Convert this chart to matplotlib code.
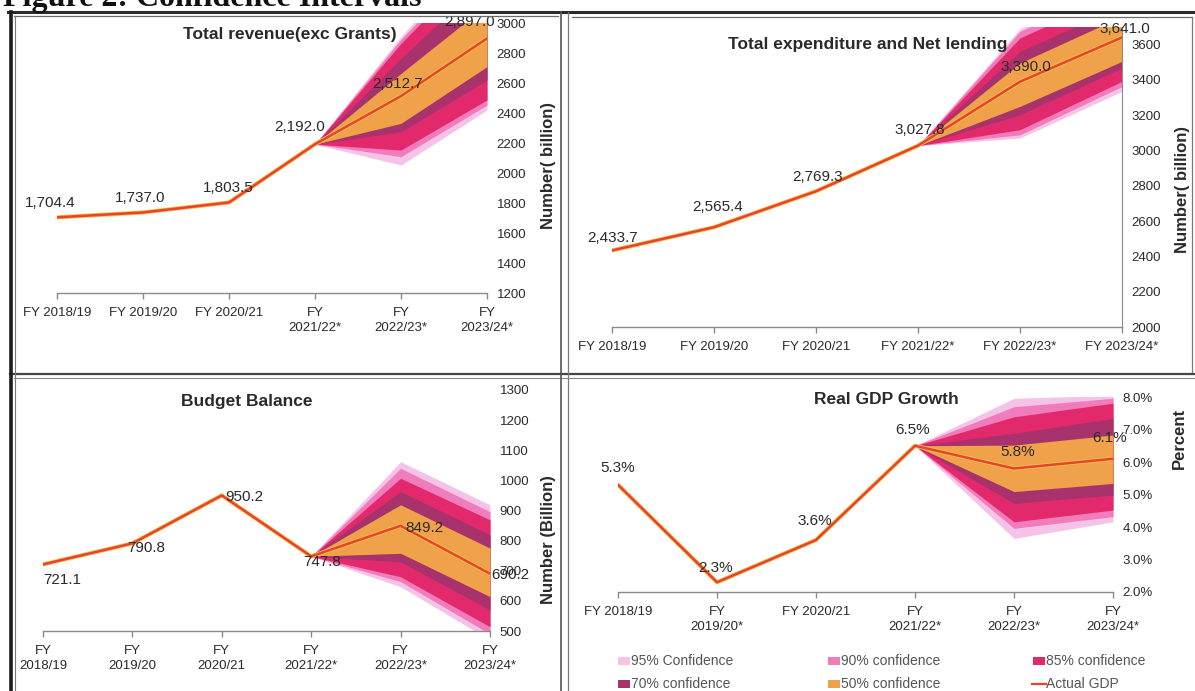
import matplotlib
matplotlib.use("Agg")
import matplotlib.pyplot as plt
from matplotlib.patches import Rectangle
from matplotlib.lines import Line2D

plt.rcParams['font.family'] = ['Liberation Sans', 'DejaVu Sans']

W, H = 1195, 691
DPI = 100

# ---------------- data ----------------
levels = ["95% Confidence", "90% confidence", "85% confidence", "70% confidence", "50% confidence"]
band_colors = ["#f6c3e8", "#f07cbc", "#e2296b", "#a8326b", "#f0a24a"]
fan_x = [3, 4, 5]

rev_ticks = ["FY 2018/19", "FY 2019/20", "FY 2020/21", "FY\n2021/22*", "FY\n2022/23*", "FY\n2023/24*"]
rev_values = [1704.4, 1737.0, 1803.5, 2192.0, 2512.7, 2897.0]
rev_labels = ["1,704.4", "1,737.0", "1,803.5", "2,192.0", "2,512.7", "2,897.0"]
rev_lower = [[2192.0, 2053, 2420], [2192.0, 2109, 2453], [2192.0, 2153, 2487],
             [2192.0, 2275, 2620], [2192.0, 2331, 2709]]
rev_upper = [[2192.0, 2909, 3550], [2192.0, 2891, 3500], [2192.0, 2864, 3450],
             [2192.0, 2764, 3300], [2192.0, 2664, 3120]]

exp_ticks = ["FY 2018/19", "FY 2019/20", "FY 2020/21", "FY 2021/22*", "FY 2022/23*", "FY 2023/24*"]
exp_values = [2433.7, 2565.4, 2769.3, 3027.8, 3390.0, 3641.0]
exp_labels = ["2,433.7", "2,565.4", "2,769.3", "3,027.8", "3,390.0", "3,641.0"]
exp_lower = [[3027.8, 3071, 3335], [3027.8, 3089, 3363], [3027.8, 3118, 3392],
             [3027.8, 3203, 3468], [3027.8, 3250, 3505]]
exp_upper = [[3027.8, 3690, 3990], [3027.8, 3675, 3950], [3027.8, 3638, 3900],
             [3027.8, 3562, 3820], [3027.8, 3496, 3760]]

bal_ticks = ["FY\n2018/19", "FY\n2019/20", "FY\n2020/21", "FY\n2021/22*", "FY\n2022/23*", "FY\n2023/24*"]
bal_values = [721.1, 790.8, 950.2, 747.8, 849.2, 690.2]
bal_labels = ["721.1", "790.8", "950.2", "747.8", "849.2", "690.2"]
bal_lower = [[747.8, 647, 470], [747.8, 664, 490], [747.8, 680, 514],
             [747.8, 730, 570], [747.8, 758, 614]]
bal_upper = [[747.8, 1062, 919], [747.8, 1040, 896], [747.8, 1007, 869],
             [747.8, 963, 819], [747.8, 919, 775]]

gdp_ticks = ["FY 2018/19", "FY\n2019/20*", "FY 2020/21", "FY\n2021/22*", "FY\n2022/23*", "FY\n2023/24*"]
gdp_values = [5.3, 2.3, 3.6, 6.5, 5.8, 6.1]
gdp_labels = ["5.3%", "2.3%", "3.6%", "6.5%", "5.8%", "6.1%"]
gdp_lower = [[6.5, 3.65, 4.16], [6.5, 3.96, 4.32], [6.5, 4.16, 4.52],
             [6.5, 4.73, 4.98], [6.5, 5.09, 5.34]]
gdp_upper = [[6.5, 7.96, 8.05], [6.5, 7.70, 7.96], [6.5, 7.39, 7.81],
             [6.5, 6.88, 7.34], [6.5, 6.52, 6.83]]

# ---------------- figure ----------------
fig = plt.figure(figsize=(W / DPI, H / DPI), dpi=DPI)
fig.patch.set_facecolor("white")

LINE_RED = "#e8432e"
TXT = "#2a2a2a"


def px_axes(l, t, w, h):
    return fig.add_axes([l / W, 1 - (t + h) / H, w / W, h / H])


def pt(px):
    return px * 72.0 / DPI


def draw_panel(ax, title, ticks, values, labels, lower, upper, ylim, yticks, ytickfmt,
               ylabel, offsets, title_xy, ylabel_xy, right_spine=False):
    x = list(range(len(values)))
    for lo, hi, c in zip(lower, upper, band_colors):
        ax.fill_between(fan_x, lo, hi, color=c, linewidth=0, zorder=2)
    ax.plot(x, values, color="#f3c24a", lw=3.0, zorder=3, solid_capstyle="round")
    ax.plot(x, values, color=LINE_RED, lw=1.8, zorder=4)
    ax.set_xlim(0, len(values) - 1)
    ax.set_ylim(*ylim)
    ax.set_xticks(x)
    ax.set_xticklabels(ticks, fontsize=9.5, color=TXT, linespacing=1.3)
    ax.set_yticks(yticks)
    ax.set_yticklabels([ytickfmt(v) for v in yticks], fontsize=9.5, color=TXT)
    ax.yaxis.tick_right()
    ax.yaxis.set_label_position("right")
    ax.tick_params(axis="y", length=0, pad=7)
    ax.tick_params(axis="x", length=4, width=1, color="#8a8a8a", direction="out", pad=6)
    for s in ["top", "left"]:
        ax.spines[s].set_visible(False)
    ax.spines["right"].set_visible(right_spine)
    ax.spines["right"].set_color("#8a8a8a")
    ax.spines["bottom"].set_color("#8a8a8a")
    ax.spines["bottom"].set_linewidth(1.0)
    ax.set_ylabel(ylabel, fontsize=12, fontweight="bold", color=TXT)
    ax.yaxis.set_label_coords(*ylabel_xy)
    ax.set_facecolor("none")
    for xi, v, lab, (dx, dy) in zip(x, values, labels, offsets):
        ax.annotate(lab, (xi, v), xytext=(pt(dx), pt(dy)), textcoords="offset points",
                    ha="center", va="center", fontsize=11, color=TXT, zorder=6,
                    annotation_clip=False)
    fig.text(title_xy[0] / W, 1 - title_xy[1] / H, title, ha="center", va="center",
             fontsize=12.5, fontweight="bold", color=TXT)


# Top-left: revenue
ax1 = px_axes(57, 23, 430, 270)
draw_panel(ax1, "Total revenue(exc Grants)", rev_ticks, rev_values, rev_labels,
           rev_lower, rev_upper, (1200, 3000), list(range(1200, 3001, 200)), lambda v: f"{v}",
           "Number( billion)",
           [(-7, 14), (-3, 14), (-1, 14), (-15, 17), (-3, 12), (-17, 16)],
           (290, 34), (1.126, 0.474))

# Top-right: expenditure
ax2 = px_axes(612, 27, 510, 300)
draw_panel(ax2, "Total expenditure and Net lending", exp_ticks, exp_values, exp_labels,
           exp_lower, exp_upper, (2000, 3700), list(range(2000, 3601, 200)), lambda v: f"{v}",
           "Number( billion)",
           [(1, 12), (4, 20), (2, 14), (2, 16), (6, 15), (3, 8)],
           (868, 44), (1.104, 0.457), right_spine=True)

# Bottom-left: budget balance
ax3 = px_axes(43, 390, 447, 241)
draw_panel(ax3, "Budget Balance", bal_ticks, bal_values, bal_labels,
           bal_lower, bal_upper, (500, 1300), list(range(500, 1301, 100)), lambda v: f"{v}",
           "Number (Billion)",
           [(19, -16), (14, -5), (23, -2), (11, -6), (24, -2), (20, -1)],
           (247, 402), (1.114, 0.378))

# Bottom-right: GDP
ax4 = px_axes(618, 397, 495, 195)
draw_panel(ax4, "Real GDP Growth", gdp_ticks, gdp_values, gdp_labels,
           gdp_lower, gdp_upper, (2, 8), [2, 3, 4, 5, 6, 7, 8], lambda v: f"{v:.1f}%",
           "Percent",
           [(0, 17), (-1, 14), (-1, 19), (-2, 16), (4, 17), (-3, 21)],
           (886, 399), (1.119, 0.79))

# Legend (below GDP panel), row-major layout
leg_items = [(levels[0], band_colors[0], "patch", 625, 661),
             (levels[1], band_colors[1], "patch", 835, 661),
             (levels[2], band_colors[2], "patch", 1040, 661),
             (levels[3], band_colors[3], "patch", 625, 684),
             (levels[4], band_colors[4], "patch", 835, 684),
             ("Actual GDP", LINE_RED, "line", 1040, 684)]
for lab, col, kind, lx, ly in leg_items:
    if kind == "patch":
        fig.add_artist(Rectangle(((lx - 7) / W, 1 - (ly + 4) / H), 12 / W, 8 / H,
                                 transform=fig.transFigure, color=col, lw=0))
    else:
        fig.add_artist(Line2D([(lx - 8) / W, (lx + 6) / W], [1 - ly / H, 1 - ly / H],
                              transform=fig.transFigure, color=col, lw=1.6))
    fig.text((lx + 6) / W, 1 - ly / H, lab, ha="left", va="center", fontsize=10, color="#555555")

# Figure heading (cut at top as in scan)
fig.text(3 / W, 1 - 6 / H, "Figure 2: Confidence Intervals", ha="left", va="baseline",
         fontsize=23, fontweight="bold", family=["Liberation Serif", "DejaVu Serif"], color="#111111")


# Panel frame lines
def hline(y, x0, x1, lw, c):
    fig.add_artist(Line2D([x0 / W, x1 / W], [1 - y / H, 1 - y / H], transform=fig.transFigure,
                          color=c, lw=lw))


def vline(x, y0, y1, lw, c):
    fig.add_artist(Line2D([x / W, x / W], [1 - y0 / H, 1 - y1 / H], transform=fig.transFigure,
                          color=c, lw=lw))


hline(12, 8, 1195, 2.2, "#2a2a2a")
hline(16, 14, 558, 0.9, "#6a6a6a")
hline(17, 572, 1192, 0.9, "#6a6a6a")
hline(374, 10, 1195, 1.6, "#444444")
hline(378, 14, 1195, 0.8, "#8a8a8a")
vline(11, 12, 691, 2.6, "#1e1e1e")
vline(15, 16, 691, 0.8, "#7a7a7a")
vline(561, 12, 691, 1.2, "#555555")
vline(568, 12, 691, 0.9, "#7a7a7a")
vline(1192, 17, 372, 0.9, "#7a7a7a")

fig.savefig("out.png", dpi=DPI, facecolor="white")
